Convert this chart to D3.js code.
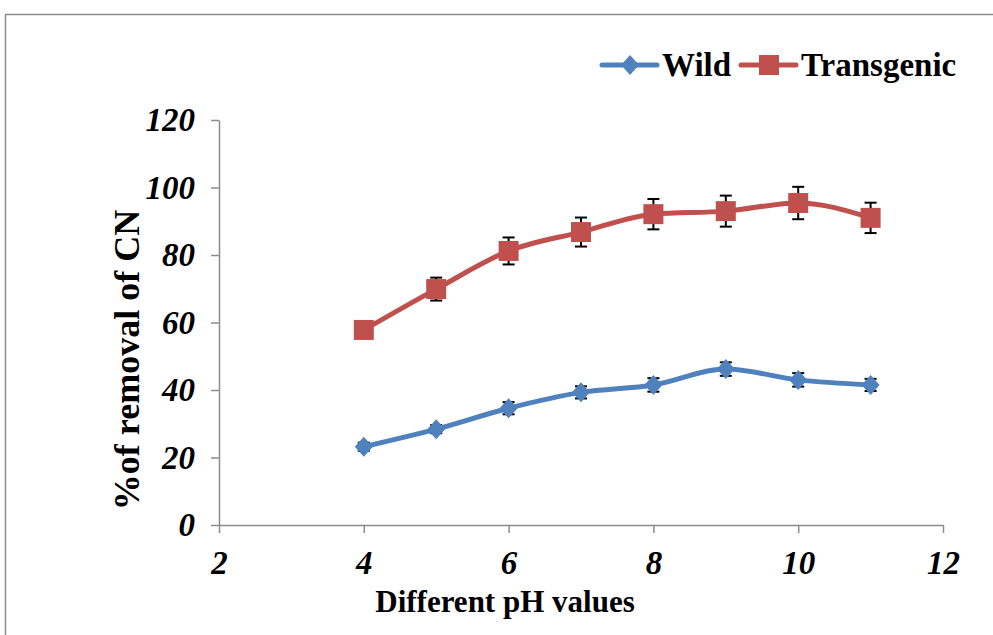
<!DOCTYPE html>
<html>
<head>
<meta charset="utf-8">
<script src="https://cdn.jsdelivr.net/npm/d3@7"></script>
<style>
  body { margin: 0; background: #fff; }
  svg text { font-family: "Liberation Serif", "Times New Roman", serif; font-weight: bold; fill: #000; }
</style>
</head>
<body>
<div id="chart"></div>
<script>
// chart values
var phValues = [4, 5, 6, 7, 8, 9, 10, 11];
var wildValues = [23.2, 28.4, 34.6, 39.3, 41.5, 46.2, 43.0, 41.5];
var wildErrors = [1.2, 1.2, 1.8, 1.8, 2.0, 2.0, 2.0, 1.8];
var transValues = [57.8, 69.9, 81.2, 86.8, 92.1, 93.0, 95.4, 91.0];
var transErrors = [1.2, 3.4, 4.0, 4.3, 4.5, 4.6, 4.8, 4.5];
var xTicks = [2, 4, 6, 8, 10, 12];
var yTicks = [0, 20, 40, 60, 80, 100, 120];

var svgWidth = 993,
	svgHeight = 635;

var margin = { top: 120, right: 50, bottom: 110, left: 219 };
var width = 943 - margin.left,
	height = 525 - margin.top;

var svg = d3.select('#chart')
	.append('svg')
	.attr('width', svgWidth)
	.attr('height', svgHeight);

// outer frame
svg.append('rect')
	.attr('x', 5.5).attr('y', 14.5)
	.attr('width', 1000).attr('height', 640)
	.attr('fill', 'none')
	.attr('stroke', '#8c8c8c')
	.attr('stroke-width', 1.5);

var chartGroup = svg.append('g')
	.attr('transform', `translate(${margin.left},${margin.top})`);

var xScale = d3.scaleLinear().domain([2, 12]).range([0, width]);
var yScale = d3.scaleLinear().domain([0, 120]).range([height, 0]);

// axes
var xAxis = chartGroup.append('g')
	.attr('transform', `translate(0,${height})`)
	.call(d3.axisBottom(xScale).tickValues(xTicks).tickSize(8).tickPadding(18).tickSizeOuter(0));
var yAxis = chartGroup.append('g')
	.call(d3.axisLeft(yScale).tickValues(yTicks).tickSize(8).tickPadding(16).tickSizeOuter(0));

[xAxis, yAxis].forEach(ax => {
	ax.select('.domain').attr('stroke', '#8c8c8c').attr('stroke-width', 1.5);
	ax.selectAll('.tick line').attr('stroke', '#8c8c8c').attr('stroke-width', 1.5);
	ax.selectAll('.tick text')
		.attr('font-size', 33)
		.attr('font-style', 'italic')
		.attr('font-family', '"Liberation Serif", serif')
		.attr('font-weight', 'bold')
		.attr('fill', '#000');
});
yAxis.selectAll('.tick text').attr('dy', '0.33em');

// axis titles
chartGroup.append('text')
	.attr('x', 505 - margin.left)
	.attr('y', 612 - margin.top)
	.attr('text-anchor', 'middle')
	.attr('font-size', 31)
	.text('Different pH values');

chartGroup.append('text')
	.attr('transform', `translate(${139 - margin.left},${360 - margin.top})rotate(-90)`)
	.attr('text-anchor', 'middle')
	.attr('font-size', 36)
	.text('%of removal of CN');

var series = [
	{ name: 'Wild', values: wildValues, errors: wildErrors, color: '#4f81bd', shape: 'diamond' },
	{ name: 'Transgenic', values: transValues, errors: transErrors, color: '#c0504d', shape: 'square' }
];

var line = d3.line()
	.x((d, i) => xScale(phValues[i]))
	.y(d => yScale(d))
	.curve(d3.curveMonotoneX);

function drawMarker(sel, shape, color) {
	if (shape === 'square') {
		sel.append('rect')
			.attr('x', -10).attr('y', -10)
			.attr('width', 20).attr('height', 20)
			.attr('fill', color);
	} else {
		sel.append('path')
			.attr('d', 'M0,-10L9,0L0,10L-9,0Z')
			.attr('fill', color);
	}
}

series.forEach(s => {
	var g = chartGroup.append('g');

	// error bars
	var eb = g.selectAll('.err')
		.data(s.values)
		.enter()
		.append('g')
		.attr('stroke', '#000')
		.attr('stroke-width', 2);
	eb.append('line')
		.attr('x1', (d, i) => xScale(phValues[i]))
		.attr('x2', (d, i) => xScale(phValues[i]))
		.attr('y1', (d, i) => yScale(d + s.errors[i]))
		.attr('y2', (d, i) => yScale(d - s.errors[i]));
	eb.append('line')
		.attr('x1', (d, i) => xScale(phValues[i]) - 6)
		.attr('x2', (d, i) => xScale(phValues[i]) + 6)
		.attr('y1', (d, i) => yScale(d + s.errors[i]))
		.attr('y2', (d, i) => yScale(d + s.errors[i]));
	eb.append('line')
		.attr('x1', (d, i) => xScale(phValues[i]) - 6)
		.attr('x2', (d, i) => xScale(phValues[i]) + 6)
		.attr('y1', (d, i) => yScale(d - s.errors[i]))
		.attr('y2', (d, i) => yScale(d - s.errors[i]));

	g.append('path')
		.datum(s.values)
		.attr('d', line)
		.attr('fill', 'none')
		.attr('stroke', s.color)
		.attr('stroke-width', 5)
		.attr('stroke-linejoin', 'round');

	g.selectAll('.marker')
		.data(s.values)
		.enter()
		.append('g')
		.attr('transform', (d, i) => `translate(${xScale(phValues[i])},${yScale(d)})`)
		.each(function() { drawMarker(d3.select(this), s.shape, s.color); });
});

// legend
var legend = svg.append('g').attr('transform', 'translate(602,65)');
var legendX = [0, 139];
series.forEach((s, i) => {
	var lg = legend.append('g').attr('transform', `translate(${legendX[i]},0)`);
	lg.append('line')
		.attr('x1', 0).attr('x2', 55)
		.attr('y1', 0).attr('y2', 0)
		.attr('stroke', s.color)
		.attr('stroke-width', 5)
		.attr('stroke-linecap', 'round');
	drawMarker(lg.append('g').attr('transform', 'translate(28,0)'), s.shape, s.color);
	lg.append('text')
		.attr('x', 60)
		.attr('y', 11)
		.attr('font-size', 33)
		.text(s.name);
});
</script>
</body>
</html>
